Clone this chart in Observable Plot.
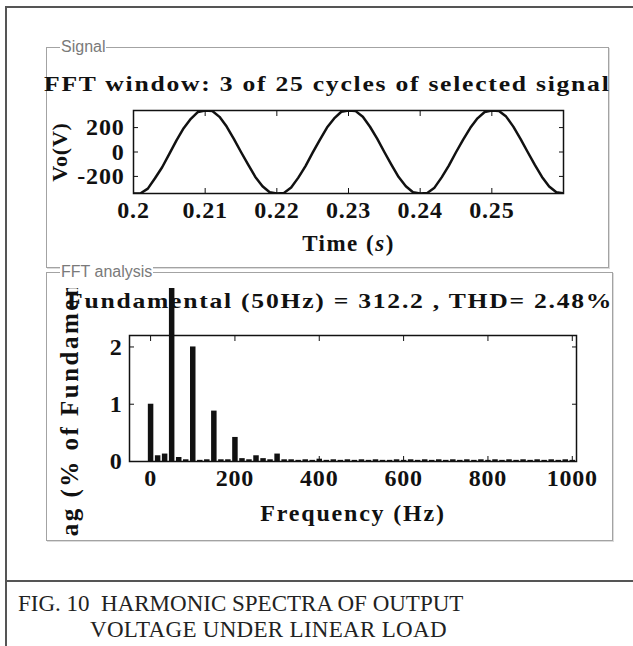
<!DOCTYPE html>
<html><head><meta charset="utf-8">
<script src="https://cdn.jsdelivr.net/npm/d3@7"></script>
<script src="https://cdn.jsdelivr.net/npm/@observablehq/plot@0.6"></script>
<style>
body{margin:0;background:#fff;}
#page{position:relative;width:633px;height:646px;overflow:hidden;background:#fff;font-family:"Liberation Serif",serif;}
.line{position:absolute;background:#555;}
.gbox{position:absolute;border:1px solid #a3a3a3;box-shadow:inset 1px 1px 0 #fff, 1px 1px 0 #dcdcdc;}
.glabel{position:absolute;background:#fff;color:#7a7a7a;font:16px "Liberation Sans",Arial,sans-serif;padding:0 1px;line-height:16px;}
.ttl{position:absolute;font-weight:bold;font-size:22px;white-space:nowrap;letter-spacing:1.5px;color:#111;line-height:24px;transform-origin:0 50%;transform:scaleX(1.165);}
.cap{position:absolute;font-size:23px;white-space:nowrap;color:#222;line-height:24px;}
.plotbox{position:absolute;left:0;}
#fft svg{overflow:hidden !important;}
</style></head>
<body>
<div id="page">
  <div class="line" style="left:5px;top:6px;width:2px;height:640px"></div>
  <div class="line" style="left:5px;top:6px;width:628px;height:2px"></div>
  <div class="line" style="left:5px;top:580px;width:628px;height:2px"></div>

  <div class="gbox" style="left:46px;top:47px;width:561px;height:219px"></div>
  <div class="gbox" style="left:46px;top:272px;width:565px;height:267px"></div>

  <div id="sig" class="plotbox" style="top:100px"></div>
  <div id="fft" class="plotbox" style="top:288px"></div>

  <div class="glabel" style="left:60px;top:39px">Signal</div>
  <div class="glabel" style="left:60px;top:264px">FFT analysis</div>
  <div id="t1" class="ttl" style="left:44px;top:72px"></div>
  <div id="t2" class="ttl" style="left:67px;top:289px"></div>

  <div class="cap" style="left:18px;top:592px">FIG. 10&nbsp;&nbsp;HARMONIC SPECTRA OF OUTPUT</div>
  <div class="cap" style="left:90px;top:618px;letter-spacing:0.3px">VOLTAGE UNDER LINEAR LOAD</div>
</div>
<script>
// ---- data ----
const signalTitle = "FFT window: 3 of 25 cycles of selected signal";
const fftTitle = "Fundamental (50Hz) = 312.2 , THD= 2.48%";
const signalYLabel = "Vo(V)";
const signalXLabel = "Time (s)";
const fftYLabel = "Mag (% of Fundamental)";
const fftXLabel = "Frequency (Hz)";

const sigTime = [0.200,0.201,0.202,0.203,0.204,0.205,0.206,0.207,0.208,0.209,
  0.210,0.211,0.212,0.213,0.214,0.215,0.216,0.217,0.218,0.219,
  0.220,0.221,0.222,0.223,0.224,0.225,0.226,0.227,0.228,0.229,
  0.230,0.231,0.232,0.233,0.234,0.235,0.236,0.237,0.238,0.239,
  0.240,0.241,0.242,0.243,0.244,0.245,0.246,0.247,0.248,0.249,
  0.250,0.251,0.252,0.253,0.254,0.255,0.256,0.257,0.258,0.259,0.260];
const sigVolt = [-340,-338,-300,-215,-125,-15,95,195,272,328,
  340,336,288,208,108,0,-104,-204,-280,-330,
  -340,-335,-290,-210,-115,-5,100,200,275,330,
  340,335,288,207,110,0,-105,-205,-280,-330,
  -340,-335,-292,-208,-112,-2,102,198,276,328,
  340,336,290,208,108,0,-106,-204,-282,-330,-338];
const sigXTicks = [0.2,0.21,0.22,0.23,0.24,0.25];
const sigXTickLabels = ["0.2","0.21","0.22","0.23","0.24","0.25"];
const sigYTicks = [-200,0,200];

const fftFreq = [0,16.7,33.3,50,66.7,83.3,100,116.7,133.3,150,166.7,183.3,200,216.7,233.3,250,266.7,283.3,300,316.7,
  333.3,350,366.7,383.3,400,416.7,433.3,450,466.7,483.3,500,516.7,533.3,550,566.7,583.3,600,616.7,633.3,650,
  666.7,683.3,700,716.7,733.3,750,766.7,783.3,800,816.7,833.3,850,866.7,883.3,900,916.7,933.3,950,966.7,983.3,1000];
const fftMag = [1.0,0.1,0.13,100,0.07,0.03,2.0,0.02,0.03,0.88,0.03,0.03,0.42,0.05,0.03,0.1,0.05,0.03,0.13,0.03,
  0.03,0.02,0.03,0.02,0.04,0.02,0.03,0.02,0.03,0.02,0.03,0.02,0.03,0.02,0.02,0.03,0.02,0.03,0.02,0.03,
  0.02,0.03,0.02,0.03,0.02,0.03,0.02,0.03,0.02,0.03,0.02,0.03,0.02,0.03,0.02,0.03,0.02,0.03,0.02,0.03,0.02];
const fftXTicks = [0,200,400,600,800,1000];
const fftYTicks = [0,1,2];

document.getElementById("t1").textContent = signalTitle;
document.getElementById("t2").textContent = fftTitle;

const baseStyle = {fontFamily: "Liberation Serif", fontWeight: "bold", fontSize: "24px", color: "#111", background: "transparent", letterSpacing: "0.8px"};

const sigData = sigTime.map((t, i) => ({t, v: sigVolt[i]}));
const sigPlot = Plot.plot({
  width: 633, height: 162,
  marginLeft: 133, marginRight: 70, marginTop: 10, marginBottom: 69,
  style: baseStyle,
  x: {domain: [0.2, 0.26]},
  y: {domain: [-340, 340]},
  marks: [
    Plot.line(sigData, {x: "t", y: "v", stroke: "#111", strokeWidth: 2.5, clip: true}),
    Plot.frame({stroke: "#111", strokeWidth: 1.5}),
    Plot.axisX(sigXTicks, {anchor: "bottom", tickSize: -5, tickPadding: 12, tickFormat: (d, i) => sigXTickLabels[i], label: null}),
    Plot.axisX(sigXTicks, {anchor: "top", tickSize: -5, tickFormat: () => "", label: null}),
    Plot.axisY(sigYTicks, {anchor: "left", tickSize: -5, tickPadding: 14, tickFormat: d => String(d), label: null}),
    Plot.axisY(sigYTicks, {anchor: "right", tickSize: -5, tickFormat: () => "", label: null}),
    Plot.text([signalXLabel], {text: d => d, frameAnchor: "bottom", dy: 57, fontSize: 23}),
    Plot.text([signalYLabel], {text: d => d, frameAnchor: "left", textAnchor: "middle", dx: -74, rotate: -90, fontSize: 22})
  ]
});
d3.select(sigPlot).selectAll("text").filter(function() { return this.textContent === signalXLabel; })
  .style("letter-spacing", "1.5px")
  .html('Time (<tspan font-style="italic">s</tspan>)');
document.getElementById("sig").appendChild(sigPlot);

const fftData = fftFreq.map((f, i) => ({f, m: fftMag[i]}));
const fftPlot = Plot.plot({
  width: 633, height: 251,
  marginLeft: 129, marginRight: 57, marginTop: 47, marginBottom: 78,
  style: baseStyle,
  x: {domain: [-50, 1010]},
  y: {domain: [0, 2.2]},
  marks: [
    Plot.ruleX(fftData, {x: "f", y1: 0, y2: "m", stroke: "#111", strokeWidth: 5.5}),
    Plot.frame({stroke: "#111", strokeWidth: 1.5}),
    Plot.axisX(fftXTicks, {anchor: "bottom", tickSize: -5, tickPadding: 12, tickFormat: d => String(d), label: null}),
    Plot.axisX(fftXTicks, {anchor: "top", tickSize: -5, tickFormat: () => "", label: null}),
    Plot.axisY(fftYTicks, {anchor: "left", tickSize: -5, tickPadding: 12, tickFormat: d => String(d), label: null}),
    Plot.axisY(fftYTicks, {anchor: "right", tickSize: -5, tickFormat: () => "", label: null}),
    Plot.text([fftXLabel], {text: d => d, frameAnchor: "bottom", dy: 59, fontSize: 24}),
    Plot.text([fftYLabel], {text: d => d, frameAnchor: "left", textAnchor: "middle", dx: -60, rotate: -90, fontSize: 25})
  ]
});
d3.select(fftPlot).selectAll("text").filter(function() { return this.textContent === fftXLabel; })
  .style("letter-spacing", "1.8px");
d3.select(fftPlot).selectAll("text").filter(function() { return this.textContent === fftYLabel; })
  .style("letter-spacing", "2.5px");
document.getElementById("fft").appendChild(fftPlot);
</script>
</body></html>
